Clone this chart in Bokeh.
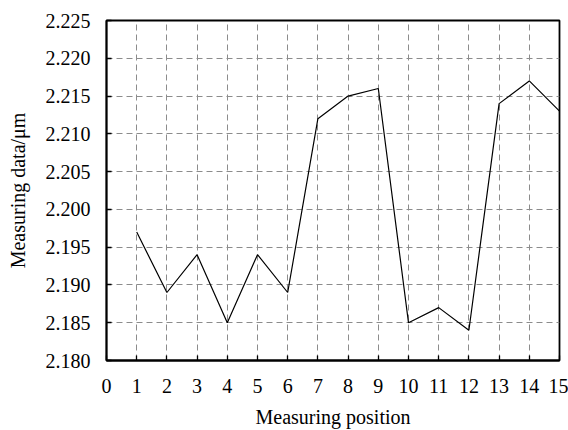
from bokeh.plotting import figure
from bokeh.models import FixedTicker, Range1d, PrintfTickFormatter
from bokeh.embed import file_html
from bokeh.resources import INLINE

positions = [1, 2, 3, 4, 5, 6, 7, 8, 9, 10, 11, 12, 13, 14, 15]
values = [2.197, 2.189, 2.194, 2.185, 2.194, 2.189, 2.212, 2.215, 2.216,
          2.185, 2.187, 2.184, 2.214, 2.217, 2.213]
x_ticks = list(range(0, 16))
y_ticks = [2.180, 2.185, 2.190, 2.195, 2.200, 2.205, 2.210, 2.215, 2.220, 2.225]
x_title = "Measuring position"
y_title = "Measuring data/\u03bcm"

FONT = "Liberation Serif"

p = figure(width=568, height=430, output_backend="svg", toolbar_location=None,
           x_range=Range1d(0, 15), y_range=Range1d(2.180, 2.225),
           min_border_left=106, min_border_right=9, min_border_top=20,
           min_border_bottom=70)

p.line(positions, values, line_color="black", line_width=1.2)

p.xaxis.ticker = FixedTicker(ticks=x_ticks)
p.yaxis.ticker = FixedTicker(ticks=y_ticks)
p.yaxis.formatter = PrintfTickFormatter(format="%.3f")
p.xaxis.minor_tick_line_color = None
p.yaxis.minor_tick_line_color = None

for ax in (p.xaxis, p.yaxis):
    ax.major_tick_in = 5
    ax.major_tick_out = 0
    ax.major_tick_line_color = "black"
    ax.major_tick_line_width = 1.3
    ax.axis_line_color = "black"
    ax.axis_line_width = 1.8
    ax.major_label_text_font = FONT
    ax.major_label_text_font_size = "20px"
    ax.major_label_text_color = "black"
    ax.axis_label_text_font = FONT
    ax.axis_label_text_font_size = "20px"
    ax.axis_label_text_font_style = "normal"
    ax.axis_label_text_color = "black"

p.xaxis.axis_label = x_title
p.yaxis.axis_label = y_title
p.xaxis.major_label_standoff = 18
p.xaxis.axis_label_standoff = 10
p.yaxis.major_label_standoff = 16
p.yaxis.axis_label_standoff = 14

for g in (p.xgrid, p.ygrid):
    g.grid_line_color = "#8c8c8c"
    g.grid_line_dash = "6 4"
    g.grid_line_width = 1

p.outline_line_color = "black"
p.outline_line_width = 1.8
p.outline_line_alpha = 1

open("out.html", "w").write(file_html(p, INLINE))
